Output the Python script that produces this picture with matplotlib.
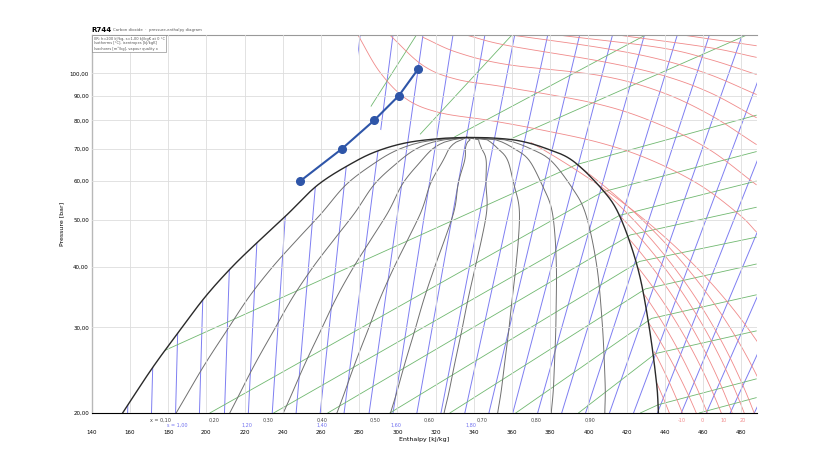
import numpy as np
import matplotlib
matplotlib.use("Agg")
import matplotlib.pyplot as plt
from matplotlib.patches import Polygon

# Saturation dome (h kJ/kg, p bar)
liq_h = [156.2, 171.9, 186.5, 199.5, 213.6, 228.3, 242.3, 258.5, 276.8, 290.0, 305.0, 322.2, 336.3]
liq_p = [20.0, 24.8, 29.7, 34.7, 40.0, 45.5, 51.2, 59.0, 65.5, 69.3, 72.0, 73.4, 73.8]
vap_h = [336.3, 350.0, 364.0, 378.0, 391.7, 406.8, 416.2, 425.6, 431.4, 435.6, 436.6]
vap_p = [73.8, 73.6, 72.6, 70.0, 66.1, 57.9, 51.0, 40.0, 30.7, 23.1, 20.0]

qualities = [0.1, 0.2, 0.3, 0.4, 0.5, 0.6, 0.7, 0.8, 0.9]
quality_labels = ["x = 0,10", "0,20", "0,30", "0,40", "0,50", "0,60", "0,70", "0,80", "0,90"]

# Isentropes: h at 20 bar and at 120 bar
s_h_bottom = [158.8, 171.3, 183.9, 196.4, 209.5, 222.0, 234.5, 247.0, 259.6, 272.1, 285.2, 297.7,
              310.2, 322.8, 335.3, 347.9, 360.4, 373.4, 386.0, 398.5, 411.0, 423.6, 436.1, 448.6,
              461.7, 474.2, 486.8]
s_h_top = [164.0, 176.6, 189.1, 202.2, 216.2, 231.9, 247.6, 263.8, 280.5, 297.7, 313.4, 329.1,
           345.8, 361.4, 378.7, 395.4, 412.6, 429.3, 446.5, 463.3, 480.5, 497.7, 514.4, 531.7,
           548.4, 565.6, 582.3]
s_label_h = [184.8, 221.5, 260.6, 299.3, 338.4]
s_labels = ["s = 1,00", "1,20", "1,40", "1,60", "1,80"]

# Isochores (green polylines)
v_lines_h = [[140.0, 393.8, 487.8], [201.9, 407.3, 487.8], [235.3, 416.2, 487.8],
             [263.6, 422.0, 487.8], [296.1, 426.7, 487.8], [327.5, 429.8, 487.8],
             [362.0, 433.0, 487.8], [394.8, 435.1, 487.8], [427.2, 436.6, 487.8],
             [458.0, 487.8], [275.0, 310.0], [312.0, 360.0], [330.0, 430.0], [360.0, 483.0]]
v_lines_p = [[23.0, 64.9, 82.0], [20.0, 57.0, 69.0], [20.0, 51.0, 60.0],
             [20.0, 46.5, 53.0], [20.0, 41.0, 46.0], [20.0, 36.0, 40.5],
             [20.0, 31.3, 35.0], [20.0, 26.5, 29.5], [20.0, 20.8, 23.5],
             [20.0, 21.5], [73.0, 120.0], [75.0, 120.0], [74.0, 120.0], [73.5, 120.0]]

# Supercritical isotherms (red polylines)
t_super_h = [[279.4, 290.9, 305.0, 322.2, 348.3, 374.5, 405.8, 431.9, 458.0, 478.9, 487.8],
             [296.1, 313.4, 331.1, 357.2, 405.8, 437.1, 463.2, 487.8],
             [313.4, 331.1, 357.2, 405.8, 437.1, 463.2, 487.8],
             [336.3, 357.2, 405.8, 437.1, 463.2, 487.8],
             [360.4, 405.8, 437.1, 463.2, 487.8],
             [384.9, 437.1, 463.2, 487.8],
             [416.2, 463.2, 487.8],
             [450.0, 487.8]]
t_super_p = [[119.8, 100.5, 88.4, 83.0, 80.0, 76.6, 72.0, 66.5, 59.0, 51.2, 47.2],
             [119.8, 103.8, 97.2, 93.6, 86.3, 78.5, 69.7, 59.0],
             [118.6, 110.5, 104.3, 99.0, 91.8, 82.3, 71.4],
             [119.8, 114.2, 106.0, 99.5, 91.4, 81.1],
             [119.8, 113.0, 106.9, 99.5, 90.5],
             [119.8, 113.0, 106.9, 99.5],
             [119.8, 113.0, 107.9],
             [119.8, 114.0]]
# Subcritical isotherms: start on vapour line, end at 20 bar
t_sub_h0 = [435.6, 434.5, 431.4, 429.3, 425.6, 421.5, 416.2, 406.8, 393.8, 370.0]
t_sub_p0 = [23.1, 26.7, 30.7, 35.0, 40.0, 45.5, 51.0, 57.9, 64.9, 72.0]
t_sub_h20 = [442.3, 449.1, 456.4, 462.2, 469.5, 475.2, 481.5, 486.7, 497.0, 510.0]
t_bottom_h = [448.6, 459.6, 470.5, 480.5]
t_bottom_labels = ["-10", "0", "10", "20"]

# Process line
proc_h = [249.1, 271.1, 287.8, 300.8, 310.8]
proc_p = [60.0, 70.0, 80.0, 90.0, 102.0]

mask_tail_h = [290.9, 282.0, 277.9, 130.0, 130.0]
mask_tail_p = [76.6, 93.6, 125.0, 125.0, 20.0]

xticks = list(range(140, 481, 20))
yticks = [20, 30, 40, 50, 60, 70, 80, 90, 100]


def smooth(xs, ys, n=20):
    P = np.column_stack([xs, ys]).astype(float)
    P = np.vstack([P[0] * 2 - P[1], P, P[-1] * 2 - P[-2]])
    out = []
    t = np.linspace(0, 1, n, endpoint=False)[:, None]
    for i in range(1, len(P) - 2):
        p0, p1, p2, p3 = P[i - 1], P[i], P[i + 1], P[i + 2]
        out.append(0.5 * ((2 * p1) + (-p0 + p2) * t + (2 * p0 - 5 * p1 + 4 * p2 - p3) * t ** 2
                          + (-p0 + 3 * p1 - 3 * p2 + p3) * t ** 3))
    out.append(P[-2][None, :])
    return np.vstack(out)


fig = plt.figure(figsize=(8.26, 4.65), dpi=100)
ax = fig.add_axes([0.111, 0.112, 0.805, 0.813])
ax.set_yscale("log")
ax.set_xlim(140, 488)
ax.set_ylim(20, 120)

BLUE = "#7070f0"
GREEN = "#70b870"
RED = "#f08a8a"
GRAY = "#707070"

pp = np.geomspace(20, 120, 60)
for hb, ht in zip(s_h_bottom, s_h_top):
    hh = hb + (ht - hb) * np.log(pp / 20) / np.log(6)
    ax.plot(hh, pp, color=BLUE, lw=0.7, alpha=0.9, zorder=1)

for hs, ps in zip(v_lines_h, v_lines_p):
    ax.plot(hs, ps, color=GREEN, lw=0.6, zorder=1)

for hs, ps in zip(t_super_h, t_super_p):
    c = smooth(hs, np.log(ps), 12)
    ax.plot(c[:, 0], np.exp(c[:, 1]), color=RED, lw=0.6, zorder=1)
for h0, p0, h20 in zip(t_sub_h0, t_sub_p0, t_sub_h20):
    p = np.linspace(20, p0, 40)
    h = h20 + (h0 - h20) * (p - 20) / (p0 - 20)
    ax.plot(h, p, color=RED, lw=0.6, zorder=1)

L = smooth(liq_h, np.log(liq_p), 20)
V = smooth(vap_h, np.log(vap_p), 20)

lpq = np.linspace(np.log(20), np.log(73.8), 120)
hl = np.interp(lpq, L[:, 1], L[:, 0])
hv = np.interp(lpq, V[::-1, 1], V[::-1, 0])
for q, lab in zip(qualities, quality_labels):
    hq = hl + q * (hv - hl)
    ax.plot(hq, np.exp(lpq), color=GRAY, lw=0.7, zorder=1.2)
    ax.text(hq[0] - 8, 19.5, lab, fontsize=3.5, color="#444444", ha="center", va="top")

mask = np.vstack([L[L[:, 0] <= 305.0], np.column_stack([mask_tail_h, np.log(mask_tail_p)])])
ax.add_patch(Polygon(np.column_stack([mask[:, 0], np.exp(mask[:, 1])]), closed=True,
                     fc="white", ec="none", zorder=1.5))

ax.plot(L[:, 0], np.exp(L[:, 1]), color="#2a2a2a", lw=1.0, zorder=3)
ax.plot(V[:, 0], np.exp(V[:, 1]), color="#2a2a2a", lw=1.0, zorder=3)

ax.plot(proc_h, proc_p, color="#2e55a8", lw=1.5, marker="o", ms=5.5, zorder=4)

for h, lab in zip(s_label_h, s_labels):
    ax.text(h, 19.05, lab, fontsize=3.5, color=BLUE, ha="center", va="top")
for h, lab in zip(t_bottom_h, t_bottom_labels):
    ax.text(h, 19.5, lab, fontsize=3.5, color=RED, ha="center", va="top")

ax.set_xticks(xticks)
ax.set_xticklabels([str(x) for x in xticks])
ax.set_yticks(yticks)
ax.set_yticklabels([f"{y},00" for y in yticks])
ax.yaxis.set_minor_locator(matplotlib.ticker.NullLocator())
ax.tick_params(axis="x", labelsize=4, length=0, pad=12)
ax.tick_params(axis="y", labelsize=4, length=0, pad=2)
ax.grid(True, color="#dddddd", lw=0.6)
ax.set_axisbelow(False)
ax.spines["top"].set_color("#999999")
ax.spines["right"].set_visible(False)
ax.set_xlabel("Enthalpy [kJ/kg]", fontsize=4.5, labelpad=2)
ax.set_ylabel("Pressure [bar]", fontsize=4.5)

fig.text(0.111, 0.93, "R744", fontsize=5, fontweight="bold", va="bottom")
fig.text(0.137, 0.932, "Carbon dioxide  ·  pressure-enthalpy diagram", fontsize=2.8, va="bottom", color="#555555")
ax.text(0.003, 0.995, "IIR: h=200 kJ/kg, s=1,00 kJ/kgK at 0 °C\nIsotherms [°C], isentropes [kJ/kgK]\nIsochores [m³/kg], vapour quality x",
        transform=ax.transAxes, fontsize=2.6, va="top", color="#555555",
        bbox=dict(fc="white", ec="#777777", lw=0.4, pad=1.0), zorder=5)

fig.savefig("out.png", dpi=100)
